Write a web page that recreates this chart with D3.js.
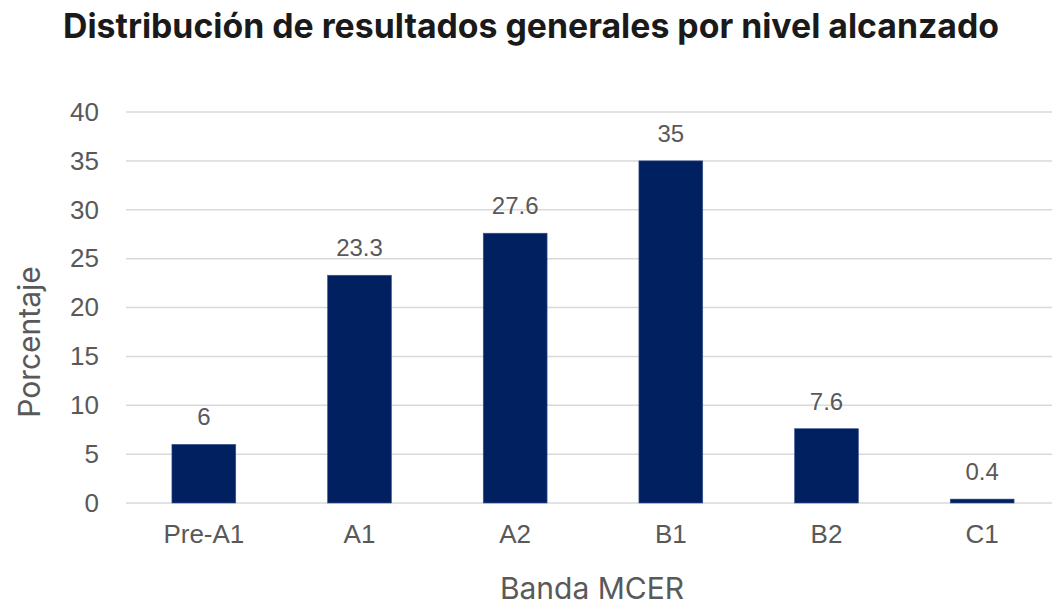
<!DOCTYPE html>
<html lang="es">
<head>
    <meta charset="UTF-8">
    <title>Distribución de resultados generales por nivel alcanzado</title>
    <script src="https://d3js.org/d3.v7.min.js"></script>
    <style>
        body {
            margin: 0;
            background: #fff;
        }
        .tick text {
            font-family: "Liberation Sans", Arial, sans-serif;
            fill: #595959;
        }
    </style>
</head>
<body>
    <svg id="chart" width="1052" height="605"></svg>

    <script>
        // data
        const bandas = ["Pre-A1", "A1", "A2", "B1", "B2", "C1"];
        const porcentajes = [6, 23.3, 27.6, 35, 7.6, 0.4];
        const yTicks = [0, 5, 10, 15, 20, 25, 30, 35, 40];

        const svg = d3.select("#chart");
        const margin = { top: 112, right: -8, bottom: 102, left: 126 };
        const width = +svg.attr("width") - margin.left - margin.right;
        const height = +svg.attr("height") - margin.top - margin.bottom;

        const g = svg.append("g")
            .attr("transform", `translate(${margin.left},${margin.top})`);

        const x = d3.scaleBand()
            .domain(bandas)
            .range([0, width])
            .paddingInner(0.59)
            .paddingOuter(0.295);

        const y = d3.scaleLinear()
            .domain([0, 40])
            .range([height, 0]);

        // gridlines
        g.append("g")
            .selectAll("line")
            .data(yTicks)
            .join("line")
            .attr("x1", 0)
            .attr("x2", width)
            .attr("y1", d => y(d))
            .attr("y2", d => y(d))
            .attr("stroke", "#d9d9d9")
            .attr("stroke-width", 1.5);

        // y axis (labels only)
        const yAxis = g.append("g")
            .call(d3.axisLeft(y).tickValues(yTicks).tickSize(0).tickPadding(27));
        yAxis.select(".domain").remove();
        yAxis.selectAll("text").style("font-size", "26px");

        // x axis (labels only)
        const xAxis = g.append("g")
            .attr("transform", `translate(0,${height})`)
            .call(d3.axisBottom(x).tickSize(0).tickPadding(22));
        xAxis.select(".domain").remove();
        xAxis.selectAll("text").style("font-size", "26px");

        // bars
        g.selectAll("rect.bar")
            .data(porcentajes)
            .join("rect")
            .attr("class", "bar")
            .attr("x", (d, i) => x(bandas[i]))
            .attr("width", x.bandwidth())
            .attr("y", d => y(d))
            .attr("height", d => y(0) - y(d))
            .attr("fill", "#002060")
            .attr("stroke", "#3a5590")
            .attr("stroke-width", 0.6);

        // data labels
        g.selectAll("text.valor")
            .data(porcentajes)
            .join("text")
            .attr("class", "valor")
            .attr("x", (d, i) => x(bandas[i]) + x.bandwidth() / 2)
            .attr("y", d => y(d) - 19)
            .attr("text-anchor", "middle")
            .style("font-family", "'Liberation Sans', Arial, sans-serif")
            .style("font-size", "24px")
            .style("fill", "#595959")
            .text(d => d);

        // title
        svg.append("text")
            .attr("x", 531)
            .attr("y", 38)
            .attr("text-anchor", "middle")
            .attr("textLength", 936)
            .attr("lengthAdjust", "spacingAndGlyphs")
            .style("font-family", "Inter, 'Noto Sans', sans-serif")
            .style("font-weight", "bold")
            .style("font-size", "34px")
            .style("fill", "#1a1a1a")
            .text("Distribución de resultados generales por nivel alcanzado");

        // axis titles
        svg.append("text")
            .attr("x", 592)
            .attr("y", 599)
            .attr("text-anchor", "middle")
            .style("font-family", "Inter, 'Open Sans', sans-serif")
            .style("font-size", "30px")
            .style("fill", "#595959")
            .text("Banda MCER");

        svg.append("text")
            .attr("transform", "translate(40,342) rotate(-90)")
            .attr("text-anchor", "middle")
            .style("font-family", "Inter, 'Open Sans', sans-serif")
            .style("font-size", "30px")
            .style("fill", "#595959")
            .text("Porcentaje");
    </script>
</body>
</html>
